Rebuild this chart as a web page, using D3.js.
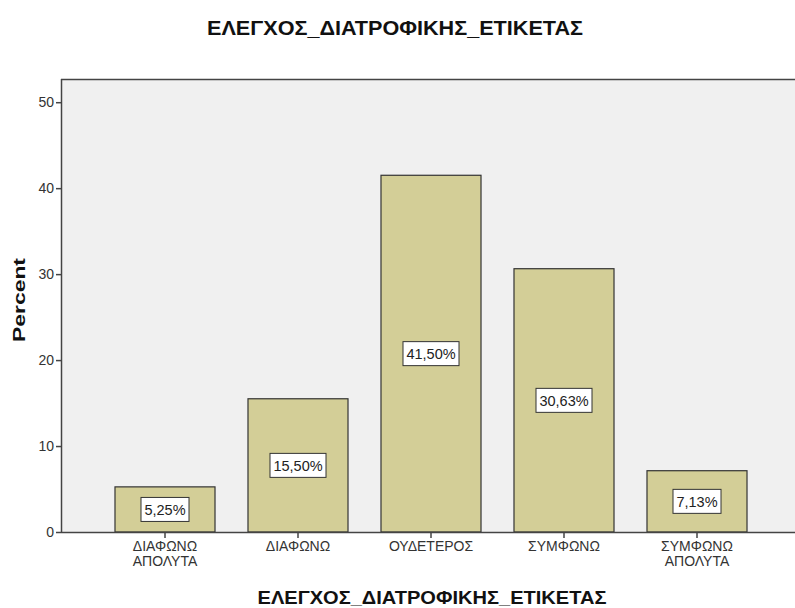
<!DOCTYPE html>
<html>
<head>
<meta charset="utf-8">
<script src="https://d3js.org/d3.v7.min.js"></script>
<style>
body { margin: 0; background: #fff; }
svg { font-family: "Liberation Sans", Arial, sans-serif; }
.tick text { fill: #333; font-size: 14px; }
</style>
</head>
<body>
<script>
// data
var categories = ["ΔΙΑΦΩΝΩ ΑΠΟΛΥΤΑ", "ΔΙΑΦΩΝΩ", "ΟΥΔΕΤΕΡΟΣ", "ΣΥΜΦΩΝΩ", "ΣΥΜΦΩΝΩ ΑΠΟΛΥΤΑ"];
var percents = [5.25, 15.50, 41.50, 30.63, 7.13];
var yTicks = [0, 10, 20, 30, 40, 50];

var W = 795, H = 608;
var pLeft = 61, pTop = 79, pBottom = 532, pRight = 795;

var svg = d3.select("body").append("svg").attr("width", W).attr("height", H);

var x = d3.scaleBand().domain(categories).range([98.5, 763.5])
    .paddingInner(0.248).paddingOuter(0.124);
var y = d3.scaleLinear().domain([0, 52.7]).range([pBottom, pTop]);

// plot background
svg.append("rect").attr("x", pLeft).attr("y", pTop)
  .attr("width", pRight - pLeft).attr("height", pBottom - pTop)
  .attr("fill", "#f0f0f0");
svg.append("line").attr("x1", pLeft).attr("x2", pRight).attr("y1", pTop + 0.5).attr("y2", pTop + 0.5)
  .attr("stroke", "#444").attr("stroke-width", 1.5);

// bars
svg.selectAll("rect.bar").data(percents).enter().append("rect")
  .attr("class", "bar")
  .attr("x", function(d, i) { return x(categories[i]); })
  .attr("y", function(d) { return y(d); })
  .attr("width", x.bandwidth())
  .attr("height", function(d) { return pBottom - y(d); })
  .attr("fill", "#d3ce97")
  .attr("stroke", "#333").attr("stroke-width", 1.2);

// value boxes
var lab = svg.selectAll("g.lab").data(percents).enter().append("g")
  .attr("class", "lab")
  .attr("transform", function(d, i) {
    return "translate(" + (x(categories[i]) + x.bandwidth() / 2) + "," + ((y(d) + pBottom) / 2) + ")";
  });
lab.append("rect")
  .attr("x", function(d) { return d >= 10 ? -28 : -24; })
  .attr("y", -12)
  .attr("width", function(d) { return d >= 10 ? 56 : 48; })
  .attr("height", 24)
  .attr("fill", "#fff").attr("stroke", "#333").attr("stroke-width", 1);
lab.append("text")
  .attr("text-anchor", "middle").attr("dy", "0.36em")
  .attr("font-size", "14.5px").attr("fill", "#222")
  .text(function(d) { return d.toFixed(2).replace(".", ",") + "%"; });

// y axis
var yAxis = svg.append("g").attr("transform", "translate(" + pLeft + ",0)")
  .call(d3.axisLeft(y).tickValues(yTicks).tickSize(5).tickPadding(2));
yAxis.select(".domain").remove();
yAxis.selectAll(".tick line").attr("stroke", "#444").attr("stroke-width", 1.5);
svg.append("line").attr("x1", pLeft + 0.5).attr("x2", pLeft + 0.5).attr("y1", pTop).attr("y2", pBottom)
  .attr("stroke", "#444").attr("stroke-width", 1.5);

// x axis
var xAxis = svg.append("g").attr("transform", "translate(0," + pBottom + ")")
  .call(d3.axisBottom(x).tickSize(6).tickPadding(3));
xAxis.select(".domain").remove();
xAxis.selectAll(".tick line").attr("stroke", "#444").attr("stroke-width", 1.5);
xAxis.selectAll(".tick text").each(function(d) {
  var t = d3.select(this), words = d.split(" ");
  t.text(null);
  words.forEach(function(w, i) {
    t.append("tspan").attr("x", 0).attr("dy", i === 0 ? "0.71em" : "1.05em").text(w);
  });
});
svg.append("line").attr("x1", pLeft).attr("x2", pRight).attr("y1", pBottom + 0.5).attr("y2", pBottom + 0.5)
  .attr("stroke", "#444").attr("stroke-width", 1.5);

// titles
svg.append("text").attr("x", 395).attr("y", 35).attr("text-anchor", "middle")
  .attr("font-size", "20px").attr("font-weight", "bold").attr("fill", "#111")
  .attr("textLength", 376).attr("lengthAdjust", "spacingAndGlyphs")
  .text("ΕΛΕΓΧΟΣ_ΔΙΑΤΡΟΦΙΚΗΣ_ΕΤΙΚΕΤΑΣ");
svg.append("text").attr("x", 432).attr("y", 604).attr("text-anchor", "middle")
  .attr("font-size", "19px").attr("font-weight", "bold").attr("fill", "#111")
  .attr("textLength", 349).attr("lengthAdjust", "spacingAndGlyphs")
  .text("ΕΛΕΓΧΟΣ_ΔΙΑΤΡΟΦΙΚΗΣ_ΕΤΙΚΕΤΑΣ");
svg.append("text").attr("transform", "translate(25,300) rotate(-90)").attr("text-anchor", "middle")
  .attr("font-size", "17px").attr("font-weight", "bold").attr("fill", "#111")
  .attr("textLength", 84).attr("lengthAdjust", "spacingAndGlyphs")
  .text("Percent");
</script>
</body>
</html>
